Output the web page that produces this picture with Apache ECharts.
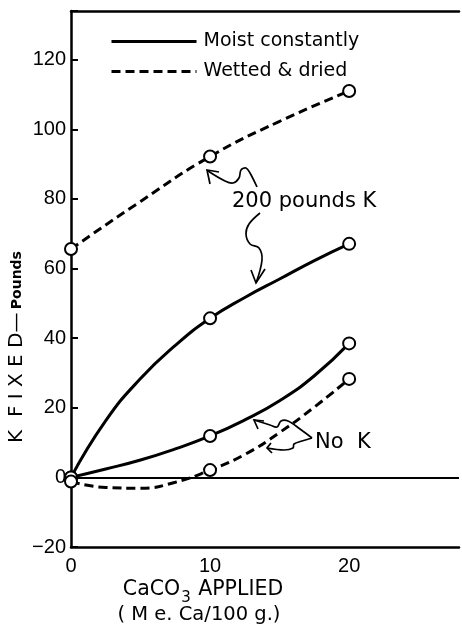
<!DOCTYPE html>
<html><head><meta charset="utf-8">
<script src="https://cdn.jsdelivr.net/npm/echarts@6/dist/echarts.min.js"></script>
<style>html,body{margin:0;padding:0;background:#fff}#c{width:462px;height:625px}</style>
</head><body><div id="c"></div>
<script>
// Observed points (open circles)
const xObs = [0, 10, 20];
const wetted200Obs = [65.6, 92.2, 111.0];
const moist200Obs = [0, 45.7, 67.1];
const moistNoKObs = [0, 11.9, 38.5];
const wettedNoKObs = [-1.2, 2.1, 28.3];

// Curves as drawn in the figure
const wetted200CurveX = [0, 5, 10, 15, 20];
const wetted200CurveY = [65.6, 79.3, 92.2, 102.3, 111.0];
const curveX = [0, 2.5, 5, 7.5, 10, 12.5, 15, 17.5, 20];
const moist200CurveY = [0, 16.3, 28.4, 37.9, 45.7, 51.7, 57.0, 62.3, 67.1];
const moistNoKCurveY = [0, 2.4, 5.0, 8.2, 11.9, 16.5, 22.0, 29.2, 38.5];
const wettedNoKCurveY = [-1.2, -2.9, -3.1, -1.4, 2.1, 6.6, 12.9, 20.2, 28.3];

const xTicks = [0, 10, 20];
const yTicks = [-20, 0, 20, 40, 60, 80, 100, 120];
const legendNames = ['Moist constantly', 'Wetted & dried'];

const pair = (xs, ys) => xs.map((x, i) => [x, ys[i]]);
const TXT = 'DejaVu Sans';
const NUM = 'Liberation Sans';

const curveBase = (name, xs, ys, dashed) => ({
  type: 'line', name: name, data: pair(xs, ys), smooth: 0.5,
  symbol: 'none', showSymbol: false, silent: true, z: 3,
  lineStyle: { color: '#000', width: 3, type: dashed ? [9, 5] : 'solid', cap: 'butt' },
  itemStyle: { color: '#000' }
});

const obsData = []
  .concat(pair(xObs, wetted200Obs), pair(xObs, moist200Obs), pair(xObs, moistNoKObs), pair(xObs, wettedNoKObs));

const arrowStyle = { fill: 'none', stroke: '#000', lineWidth: 1.7 };
const squiggle = (pts) => ({ type: 'polyline', z: 10, silent: true, shape: { points: pts, smooth: 0.35 }, style: arrowStyle });
const head = (pts) => ({ type: 'polyline', z: 10, silent: true, shape: { points: pts }, style: arrowStyle });

const chart = echarts.init(document.getElementById('c'), null, { renderer: 'canvas' });
chart.setOption({
  animation: false,
  backgroundColor: '#fff',
  grid: { left: 71, right: 0, top: 11, bottom: 78 },
  legend: {
    data: legendNames, orient: 'vertical', left: 110, top: 32, padding: 0,
    itemWidth: 85, itemHeight: 14, itemGap: 11, selectedMode: false,
    itemStyle: { color: 'rgba(0,0,0,0)', borderColor: 'rgba(0,0,0,0)', borderWidth: 0 },
    lineStyle: { width: 3 },
    textStyle: { fontFamily: TXT, fontSize: 19, color: '#000', padding: [0, 0, 0, 2] }
  },
  xAxis: [{
    type: 'value', min: 0, max: 27.9, interval: 10,
    axisLine: { onZero: false, lineStyle: { color: '#000', width: 2.5 } },
    axisTick: { show: false }, splitLine: { show: false },
    axisLabel: { margin: 9, color: '#000', fontFamily: NUM, fontSize: 20,
      formatter: v => xTicks.includes(v) ? String(v) : '' }
  }, {
    type: 'value', position: 'top', min: 0, max: 27.9,
    axisLine: { onZero: false, lineStyle: { color: '#000', width: 2.5 } },
    axisTick: { show: false }, axisLabel: { show: false }, splitLine: { show: false }
  }],
  yAxis: {
    type: 'value', min: -20, max: 134, interval: 20,
    axisLine: { onZero: false, lineStyle: { color: '#000', width: 2.5 } },
    axisTick: { show: true, inside: true, length: 7, lineStyle: { color: '#000', width: 2 } },
    splitLine: { show: false },
    axisLabel: { margin: 5, color: '#000', fontFamily: NUM, fontSize: 20,
      formatter: v => yTicks.includes(v) ? (v < 0 ? '\u2212' + (-v) : String(v)) : '' }
  },
  series: [
    Object.assign(curveBase(legendNames[1], wetted200CurveX, wetted200CurveY, true), {
      markLine: { silent: true, symbol: 'none', label: { show: false },
        lineStyle: { color: '#000', width: 1.8, type: 'solid' }, data: [{ yAxis: 0 }] }
    }),
    curveBase(legendNames[0], curveX, moist200CurveY, false),
    curveBase(legendNames[0], curveX, moistNoKCurveY, false),
    curveBase(legendNames[1], curveX, wettedNoKCurveY, true),
    {
      type: 'scatter', name: 'observed', data: obsData, symbol: 'circle', symbolSize: 12, z: 5,
      silent: true,
      itemStyle: { color: '#fff', borderColor: '#000', borderWidth: 2, opacity: 1 }
    }
  ],
  graphic: [
    { type: 'text', x: 17, y: 347, rotation: Math.PI / 2, z: 10,
      style: { text: '{a|K  F I X E D\u2014} {b|Pounds}', align: 'center', verticalAlign: 'middle',
        rich: { a: { fontFamily: TXT, fontSize: 20, fill: '#000', fontWeight: 'normal' },
                b: { fontFamily: TXT, fontSize: 14, fontWeight: 'bold', fill: '#000' } } } },
    { type: 'text', x: 203, y: 590, z: 10,
      style: { text: '{a|CaCO}{s|3}{a| APPLIED}', align: 'center', verticalAlign: 'middle',
        rich: { a: { fontFamily: TXT, fontSize: 20.5, fill: '#000', verticalAlign: 'middle' },
                s: { fontFamily: TXT, fontSize: 15, fill: '#000', padding: [16, 1, 0, 1], verticalAlign: 'bottom' } } } },
    { type: 'text', x: 199, y: 615, z: 10,
      style: { text: '( M e. Ca/100 g.)', align: 'center', verticalAlign: 'middle',
        fontFamily: TXT, fontSize: 19.5, fill: '#000' } },
    { type: 'text', x: 232, y: 202, z: 10,
      style: { text: '200 pounds K', align: 'left', verticalAlign: 'middle',
        fontFamily: TXT, fontSize: 21, fill: '#000' } },
    { type: 'text', x: 315, y: 443, z: 10,
      style: { text: 'No  K', align: 'left', verticalAlign: 'middle',
        fontFamily: TXT, fontSize: 21, fill: '#000' } },
    squiggle([[257,187],[250,173],[246,168],[241,170],[239,178],[233,183],[225,181],[208,171]]),
    head([[210,184],[207,170],[219,172]]),
    squiggle([[260,213],[249,224],[246,234],[250,244],[259,248],[262,260],[256,283]]),
    head([[251,270],[256,283],[265,269]]),
    squiggle([[312,438],[300,429],[288,421],[281,421],[277,427],[270,425],[254,420]]),
    head([[258,429],[254,420],[264,421]]),
    squiggle([[312,438],[302,441],[294,444],[293,448],[284,450],[267,448]]),
    head([[271,443],[267,448],[272,453]])
  ]
});
</script></body></html>
